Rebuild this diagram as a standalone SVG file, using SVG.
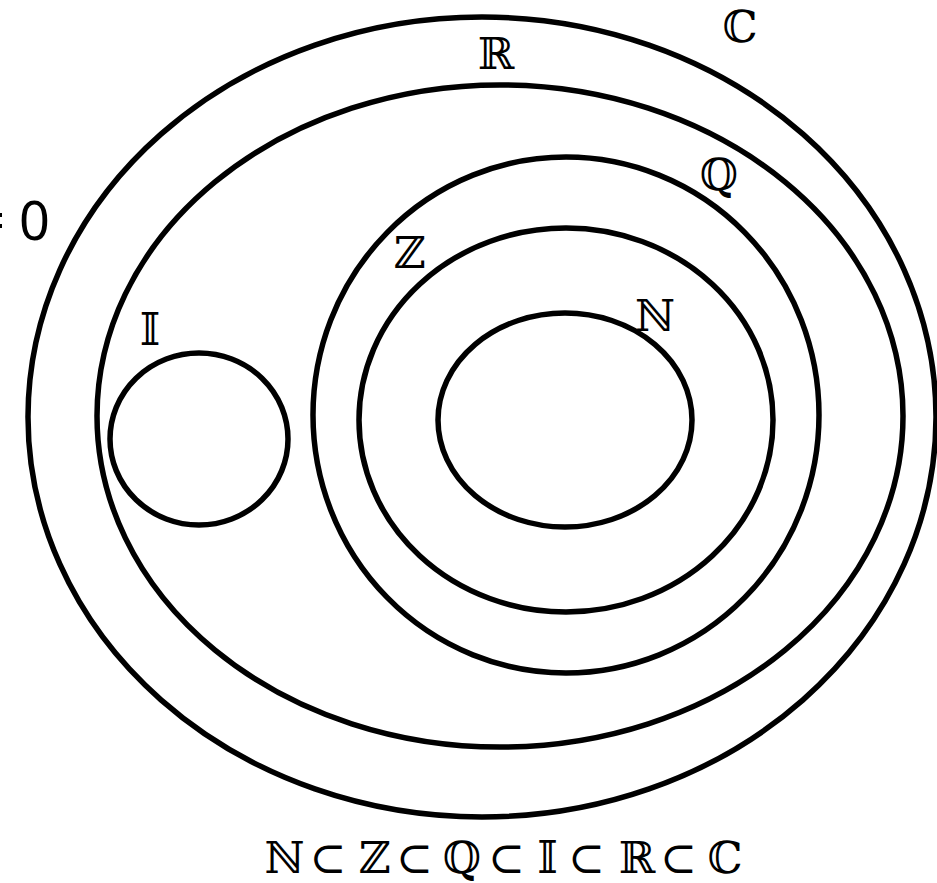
<svg xmlns="http://www.w3.org/2000/svg" width="937" height="883" viewBox="0 0 937 883">
<style>
.set{fill:none;stroke:#000;stroke-width:5.5}
.lbl{font-family:"DejaVu Serif","DejaVu Sans",serif;font-size:44px;fill:#000;text-anchor:middle}
.zero{font-family:"Noto Sans","Open Sans",sans-serif;font-size:54px;fill:#000;text-anchor:end}
</style>
<rect width="937" height="883" fill="#fff"/>
<g id="C"><ellipse class="set" cx="482" cy="417" rx="454" ry="400"/><text class="lbl" x="740" y="42">ℂ</text></g>
<g id="R"><ellipse class="set" cx="500" cy="416" rx="403" ry="331"/><text class="lbl" x="496" y="69">ℝ</text></g>
<g id="Q"><ellipse class="set" cx="566" cy="415" rx="253" ry="258"/><text class="lbl" x="719" y="190">ℚ</text></g>
<g id="Z"><ellipse class="set" cx="566" cy="420" rx="207" ry="192"/><text class="lbl" x="410" y="268">ℤ</text></g>
<g id="N"><ellipse class="set" cx="565" cy="420" rx="127" ry="107"/><text class="lbl" x="655" y="331">ℕ</text></g>
<g id="I"><ellipse class="set" cx="199" cy="439" rx="89" ry="86"/><text class="lbl" x="150" y="345">𝕀</text></g>
<g id="eq"><text class="zero" x="50" y="240">= 0</text></g>
<g id="connectors"></g>
<g id="formula"><text class="lbl" y="873"><tspan x="284.5">ℕ</tspan><tspan x="328">⊂</tspan><tspan x="375">ℤ</tspan><tspan x="414.5">⊂</tspan><tspan x="462">ℚ</tspan><tspan x="506.5">⊂</tspan><tspan x="547.5">𝕀</tspan><tspan x="586.5">⊂</tspan><tspan x="637">ℝ</tspan><tspan x="678.5">⊂</tspan><tspan x="725">ℂ</tspan></text></g>
</svg>
